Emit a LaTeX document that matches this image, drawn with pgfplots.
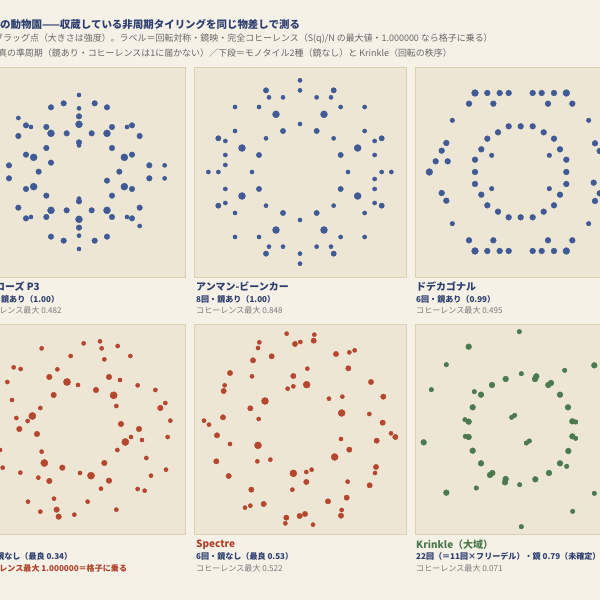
\documentclass[border=0pt]{standalone}
\usepackage{fontspec}
\setmainfont{Noto Sans CJK JP}
\usepackage{pgfplots}
\pgfplotsset{compat=1.18}
\definecolor{pagebg}{HTML}{F5F1E7}
\definecolor{panelbg}{HTML}{EEE6D4}
\definecolor{bordercol}{HTML}{DCD0B0}
\definecolor{dotblue}{HTML}{3F5A95}
\definecolor{dotred}{HTML}{B5472F}
\definecolor{dotgreen}{HTML}{4B7A50}
\definecolor{navy}{HTML}{2E3F6F}
\definecolor{graytxt}{HTML}{7A7A7A}
\definecolor{redtxt}{HTML}{B0402A}
\definecolor{greentxt}{HTML}{4A7A4C}
\pgfplotsset{panel/.style={scale only axis, width=212bp, height=210bp, y dir=reverse,
  axis line style={draw=bordercol, line width=0.9bp}, ticks=none,
  axis background/.style={fill=panelbg}, anchor=north west},
  dots/.style={only marks, mark=*, mark size=#1}}
\newcommand{\ttlf}{\fontsize{10.5}{12}\selectfont\bfseries}
\newcommand{\subf}{\fontsize{9}{10}\selectfont}
\newcommand{\pnlf}{\fontsize{10}{12}\selectfont\bfseries}
\newcommand{\lblf}{\fontsize{8.1}{10}\selectfont}
\tikzset{lbl/.style={anchor=west, inner sep=0}}
\begin{document}
\begin{tikzpicture}
\useasboundingbox (0,0) rectangle (600bp,600bp);
\clip (0,0) rectangle (600bp,600bp);
\fill[pagebg] (0,0) rectangle (600bp,600bp);
% titles
\node[lbl, text=navy, font=\ttlf] at (0bp,576bp) {の動物園——収蔵している非周期タイリングを同じ物差しで測る};
\node[lbl, text=graytxt!85!black, font=\subf] at (-6bp,561.5bp) {ブラッグ点（大きさは強度）。ラベル＝回転対称・鏡映・完全コヒーレンス（S(q)/N の最大値・1.000000 なら格子に乗る）};
\node[lbl, text=graytxt!85!black, font=\subf] at (-29bp,546.5bp) {上段＝真の準周期（鏡あり・コヒーレンスは1に届かない）／下段＝モノタイル2種（鏡なし）と Krinkle（回転の秩序）};
% ---------- panel 1: Penrose P3 ----------
\begin{axis}[panel, at={(-27bp,533bp)}, xmin=-81, xmax=555, ymin=21, ymax=651]
\addplot[dots=2.1, color=dotblue] coordinates {(237,105) (237,145) (55,174) (93,201) (381,201) (237,256) (494,316) (494,355) (237,416) (93,471) (381,471) (419,498) (237,527) (237,567)};
\addplot[dots=2.8, color=dotblue] coordinates {(191,130) (284,130) (153,142) (321,142) (237,169) (78,196) (139,201) (200,220) (275,220) (336,201) (396,196) (419,228) (55,228) (237,247) (139,264) (336,264) (78,284) (396,284) (153,308) (27,316) (448,316) (116,335) (358,335) (27,355) (321,362) (448,355) (78,387) (396,387) (139,407) (336,407) (237,424) (55,443) (419,443) (200,451) (275,451) (78,475) (139,471) (336,471) (396,475) (237,503) (153,530) (191,542) (284,542) (321,530)};
\addplot[dots=3.5, color=dotblue] coordinates {(237,193) (153,220) (321,220) (101,292) (373,292) (101,380) (373,380) (153,451) (321,451) (237,478)};
\end{axis}
% ---------- panel 2: Ammann-Beenker ----------
\begin{axis}[panel, at={(194bp,533bp)}, xmin=12, xmax=648, ymin=21, ymax=651]
\addplot[dots=2.1, color=dotblue] coordinates {(330,61) (330,91) (237,112) (279,112) (380,112) (423,112) (135,141) (207,141) (452,141) (524,141) (330,192) (135,213) (524,213) (106,243) (228,235) (431,235) (554,243) (106,285) (554,285) (106,315) (55,336) (85,336) (186,336) (474,336) (575,336) (604,336) (554,357) (106,387) (554,387) (106,429) (228,437) (431,437) (554,429) (135,459) (524,459) (330,480) (135,531) (207,531) (452,531) (524,531) (237,560) (279,560) (380,560) (423,560) (330,581) (330,611)};
\addplot[dots=2.7, color=dotblue] coordinates {(228,91) (431,91) (279,213) (380,213) (85,235) (575,235) (207,285) (452,285) (207,387) (452,387) (85,437) (575,437) (279,459) (380,459) (228,581) (431,581)};
\addplot[dots=3.5, color=dotblue] coordinates {(258,163) (402,163) (156,264) (503,264) (156,408) (503,408) (258,510) (402,510)};
\end{axis}
% ---------- panel 3: Dodecagonal ----------
\begin{axis}[panel, at={(415bp,533bp)}, xmin=30, xmax=666, ymin=21, ymax=651]
\addplot[dots=2.3, color=dotblue] coordinates {(142,181) (551,181) (260,286) (433,286) (260,386) (433,386) (142,491) (551,491)};
\addplot[dots=2.9, color=dotblue] coordinates {(247,99) (284,99) (311,99) (383,99) (410,99) (447,99) (192,131) (265,131) (429,131) (502,131) (311,199) (347,199) (383,199) (279,217) (416,217) (247,236) (447,236) (124,249) (570,250) (229,268) (465,268) (110,272) (584,273) (92,304) (128,304) (602,368) (566,368) (210,299) (484,299) (210,336) (484,336) (210,372) (484,372) (110,399) (584,400) (229,404) (465,404) (124,422) (570,423) (247,436) (447,436) (279,455) (416,455) (311,472) (347,472) (383,472) (192,541) (265,541) (429,541) (502,541) (247,573) (284,573) (311,573) (383,573) (410,573) (447,573)};
\addplot[dots=3.4, color=dotblue] coordinates {(210,99) (484,99) (73,336) (621,336) (210,573) (484,573)};
\end{axis}
% ---------- panel 4: Hat ----------
\begin{axis}[panel, at={(-27bp,276bp)}, xmin=-81, xmax=555, ymin=12, ymax=642]
\addplot[dots=2.1, color=dotred] coordinates {(125,85) (251,70) (300,64) (305,85) (353,78) (212,108) (391,108) (313,118) (41,142) (62,147) (172,148) (234,195) (360,180) (22,186) (413,196) (466,210) (36,240) (496,249) (349,258) (121,264) (49,294) (83,303) (511,302) (393,351) (426,360) (503,351) (0,390) (125,395) (352,390) (439,414) (8,443) (61,458) (240,459) (453,467) (498,449) (115,473) (303,506) (413,507) (434,512) (162,536) (84,545) (263,545) (121,575) (223,584) (349,569)};
\addplot[dots=2.8, color=dotred] coordinates {(148,171) (327,171) (288,210) (161,225) (481,264) (58,327) (111,342) (363,312) (417,327) (187,443) (313,429) (148,483) (327,482) (170,569) (176,590)};
\addplot[dots=3.6, color=dotred] coordinates {(201,186) (341,226) (97,288) (376,366) (133,429) (273,467)};
\end{axis}
% ---------- panel 5: Spectre ----------
\begin{axis}[panel, at={(194bp,276bp)}, xmin=12, xmax=648, ymin=12, ymax=642]
\addplot[dots=2.1, color=dotred] coordinates {(290,41) (373,44) (208,67) (331,66) (204,84) (478,97) (494,91) (352,146) (186,169) (104,196) (293,206) (310,199) (417,236) (457,230) (206,297) (538,282) (42,302) (57,314) (603,340) (120,372) (453,357) (202,424) (241,419) (555,459) (349,456) (365,449) (473,485) (307,509) (181,557) (165,563) (455,570) (286,610) (369,614)};
\addplot[dots=2.7, color=dotred] coordinates {(315,72) (371,62) (438,102) (245,109) (189,121) (475,145) (120,159) (310,168) (543,186) (101,213) (580,230) (181,265) (99,292) (578,308) (81,346) (616,351) (560,362) (478,389) (79,424) (558,441) (116,468) (349,486) (539,496) (184,509) (470,533) (221,552) (414,544) (453,587) (289,593) (329,588) (345,582)};
\addplot[dots=3.5, color=dotred] coordinates {(350,194) (225,243) (455,279) (204,376) (434,411) (310,460)};
\end{axis}
% ---------- panel 6: Krinkle ----------
\begin{axis}[panel, at={(415bp,276bp)}, xmin=30, xmax=666, ymin=12, ymax=642]
\addplot[dots=2.3, color=dotgreen] coordinates {(343,35) (124,134) (479,151) (349,161) (79,209) (208,215) (180,299) (320,292) (329,286) (512,306) (181,349) (364,369) (373,363) (512,355) (485,439) (344,494) (214,504) (568,520) (503,574) (349,620)};
\addplot[dots=2.9, color=dotgreen] coordinates {(191,80) (568,136) (302,177) (261,195) (390,177) (394,169) (430,195) (438,189) (228,224) (465,224) (203,262) (489,262) (191,305) (502,304) (56,367) (191,351) (502,349) (203,392) (490,393) (228,430) (465,430) (255,465) (262,459) (432,459) (302,477) (300,487) (391,478) (124,518)};
\end{axis}
% ---------- panel labels ----------
\node[lbl, text=navy, font=\pnlf] at (-25bp,313bp) {ペンローズ P3};
\node[lbl, text=navy, font=\lblf\bfseries] at (-25bp,301bp) {10回・鏡あり（1.00）};
\node[lbl, text=graytxt, font=\lblf] at (-25bp,290bp) {コヒーレンス最大 0.482};
\node[lbl, text=navy, font=\pnlf] at (196bp,313bp) {アンマン-ビーンカー};
\node[lbl, text=navy, font=\lblf\bfseries] at (196bp,301bp) {8回・鏡あり（1.00）};
\node[lbl, text=graytxt, font=\lblf] at (196bp,290bp) {コヒーレンス最大 0.848};
\node[lbl, text=navy, font=\pnlf] at (416bp,313bp) {ドデカゴナル};
\node[lbl, text=navy, font=\lblf\bfseries] at (416bp,301bp) {6回・鏡あり（0.99）};
\node[lbl, text=graytxt, font=\lblf] at (416bp,290bp) {コヒーレンス最大 0.495};
\node[lbl, text=redtxt, font=\pnlf] at (-40bp,55bp) {Hat};
\node[lbl, text=navy, font=\lblf\bfseries] at (-25bp,43.5bp) {6回・鏡なし（最良 0.34）};
\node[lbl, text=redtxt, font=\lblf\bfseries] at (-25bp,32bp) {コヒーレンス最大 1.000000＝格子に乗る};
\node[lbl, text=redtxt, font=\pnlf] at (196bp,55bp) {Spectre};
\node[lbl, text=navy, font=\lblf\bfseries] at (196bp,43.5bp) {6回・鏡なし（最良 0.53）};
\node[lbl, text=graytxt, font=\lblf] at (196bp,32bp) {コヒーレンス最大 0.522};
\node[lbl, text=greentxt, font=\pnlf] at (416bp,55bp) {Krinkle（大域）};
\node[lbl, text=navy, font=\lblf\bfseries] at (416bp,43.5bp) {22回（＝11回×フリーデル）・鏡 0.79（未確定）};
\node[lbl, text=graytxt, font=\lblf] at (416bp,32bp) {コヒーレンス最大 0.071};
\end{tikzpicture}
\end{document}
